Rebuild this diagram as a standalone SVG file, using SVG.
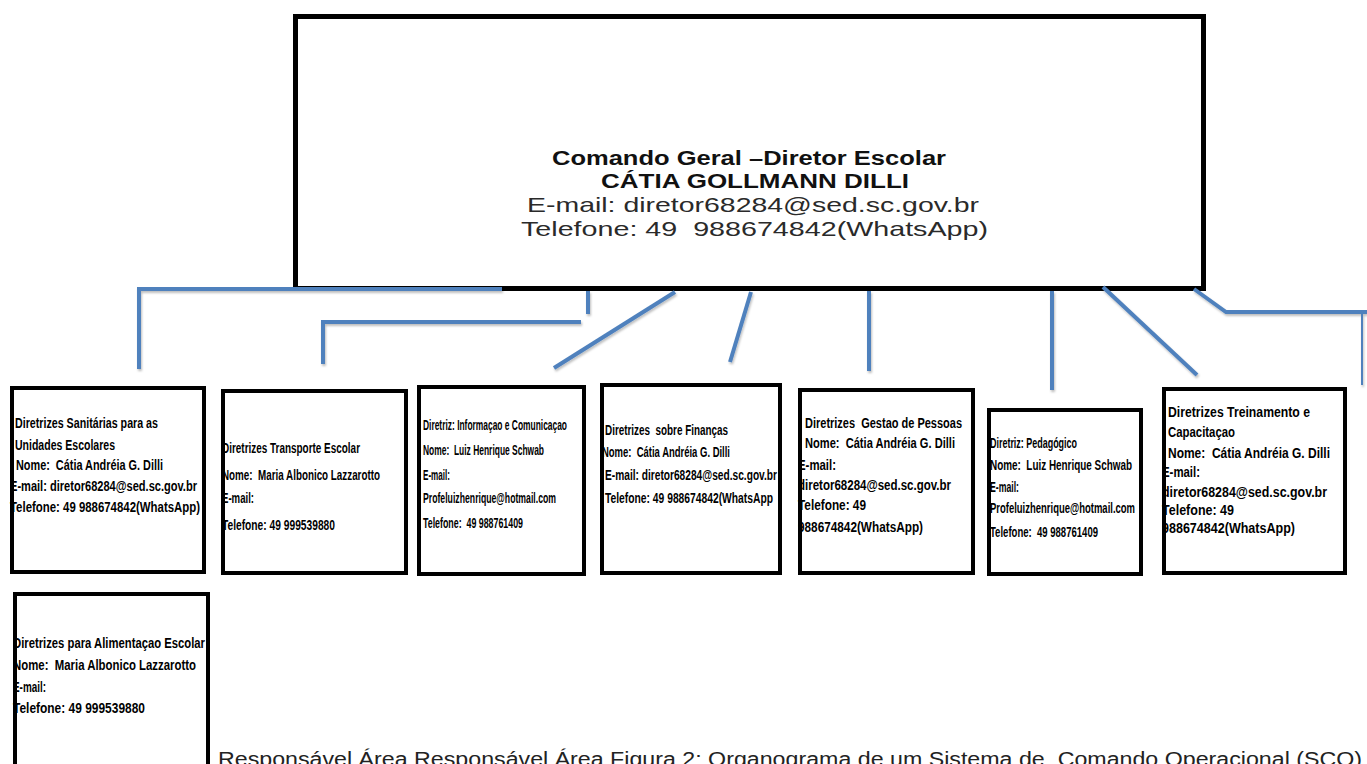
<svg xmlns="http://www.w3.org/2000/svg" width="1367" height="764" viewBox="0 0 1367 764">
<defs>
<style>
.box{fill:#fff;stroke:#000;stroke-width:4}
.main{fill:#fff;stroke:#000;stroke-width:5}
.t{font-family:"Liberation Sans",Arial,sans-serif;font-size:14.5px;font-weight:bold;fill:#000;white-space:pre}
.mb{font-family:"Liberation Sans",Arial,sans-serif;font-size:20px;font-weight:bold;fill:#111;text-anchor:middle;white-space:pre}
.mr{font-family:"Liberation Sans",Arial,sans-serif;font-size:21px;fill:#2a2a2a;text-anchor:middle;white-space:pre}
.cap{font-family:"Liberation Sans",Arial,sans-serif;font-size:20px;fill:#222;white-space:pre}
.c{fill:none;stroke:#4F81BD;stroke-width:4;stroke-linejoin:miter}
</style>
<filter id="sh" x="-10%" y="-10%" width="120%" height="130%">
<feDropShadow dx="1" dy="2" stdDeviation="1" flood-color="#000" flood-opacity="0.25"/>
</filter>
</defs>
<rect width="1367" height="764" fill="#fff"/>

<g id="main">
<rect class="main" x="295.5" y="16.5" width="908" height="272"/>
<text class="mb" x="749" y="165" textLength="394" lengthAdjust="spacingAndGlyphs">Comando Geral –Diretor Escolar</text>
<text class="mb" x="755" y="188" textLength="308" lengthAdjust="spacingAndGlyphs">CÁTIA GOLLMANN DILLI</text>
<text class="mr" x="753" y="212" textLength="452" lengthAdjust="spacingAndGlyphs">E-mail: diretor68284@sed.sc.gov.br</text>
<text class="mr" x="754.5" y="236" textLength="467" lengthAdjust="spacingAndGlyphs">Telefone: 49  988674842(WhatsApp)</text>
</g>

<g id="connectors" filter="url(#sh)">
<polyline class="c" points="502,289 139,289 139,369"/>
<line class="c" x1="588" y1="291" x2="588" y2="314"/>
<polyline class="c" points="581,322 323,322 323,364"/>
<line class="c" x1="675" y1="292" x2="554" y2="368"/>
<line class="c" x1="751" y1="292" x2="730" y2="362"/>
<line class="c" x1="869" y1="291" x2="869" y2="371"/>
<line class="c" x1="1052" y1="291" x2="1052" y2="390"/>
<line class="c" x1="1103" y1="287" x2="1197" y2="375"/>
<polyline class="c" points="1194,289 1226,312 1367,312"/>
<line x1="1362" y1="312" x2="1362" y2="385" stroke="#4F81BD" stroke-width="2"/>
</g>

<g id="n1">
<rect class="box" x="12" y="388" width="192" height="184"/>
<text class="t" x="15" y="428" textLength="143" lengthAdjust="spacingAndGlyphs">Diretrizes Sanitárias para as</text>
<text class="t" x="15" y="450" textLength="100" lengthAdjust="spacingAndGlyphs">Unidades Escolares</text>
<text class="t" x="16" y="470" textLength="147" lengthAdjust="spacingAndGlyphs">Nome:  Cátia Andréia G. Dilli</text>
<text class="t" x="10" y="491" textLength="187" lengthAdjust="spacingAndGlyphs">E-mail: diretor68284@sed.sc.gov.br</text>
<text class="t" x="10" y="512" textLength="190" lengthAdjust="spacingAndGlyphs">Telefone: 49 988674842(WhatsApp)</text>
</g>

<g id="n2">
<rect class="box" x="223" y="391" width="183" height="182"/>
<text class="t" x="222" y="453" textLength="138" lengthAdjust="spacingAndGlyphs">Diretrizes Transporte Escolar</text>
<text class="t" x="222" y="480" textLength="158" lengthAdjust="spacingAndGlyphs">Nome:  Maria Albonico Lazzarotto</text>
<text class="t" x="222" y="503" textLength="32" lengthAdjust="spacingAndGlyphs">E-mail:</text>
<text class="t" x="222" y="530" textLength="113" lengthAdjust="spacingAndGlyphs">Telefone: 49 999539880</text>
</g>

<g id="n3">
<rect class="box" x="419" y="387" width="165" height="187"/>
<text class="t" x="423" y="430" textLength="144" lengthAdjust="spacingAndGlyphs">Diretriz: Informaçao e Comunicaçao</text>
<text class="t" x="423" y="455" textLength="121" lengthAdjust="spacingAndGlyphs">Nome:  Luiz Henrique Schwab</text>
<text class="t" x="423" y="480" textLength="27" lengthAdjust="spacingAndGlyphs">E-mail:</text>
<text class="t" x="423" y="503" textLength="133" lengthAdjust="spacingAndGlyphs">Profeluizhenrique@hotmail.com</text>
<text class="t" x="423" y="528" textLength="100" lengthAdjust="spacingAndGlyphs">Telefone:  49 988761409</text>
</g>

<g id="n4">
<rect class="box" x="602" y="385" width="178" height="188"/>
<text class="t" x="605" y="435" textLength="123" lengthAdjust="spacingAndGlyphs">Diretrizes  sobre Finanças</text>
<text class="t" x="602" y="457" textLength="128" lengthAdjust="spacingAndGlyphs">Nome:  Cátia Andréia G. Dilli</text>
<text class="t" x="605" y="480" textLength="172" lengthAdjust="spacingAndGlyphs">E-mail: diretor68284@sed.sc.gov.br</text>
<text class="t" x="605" y="503" textLength="168" lengthAdjust="spacingAndGlyphs">Telefone: 49 988674842(WhatsApp</text>
</g>

<g id="n5">
<rect class="box" x="800" y="390" width="173" height="183"/>
<text class="t" x="805" y="428" textLength="157" lengthAdjust="spacingAndGlyphs">Diretrizes  Gestao de Pessoas</text>
<text class="t" x="805" y="448" textLength="150" lengthAdjust="spacingAndGlyphs">Nome:  Cátia Andréia G. Dilli</text>
<text class="t" x="798" y="470" textLength="38" lengthAdjust="spacingAndGlyphs">E-mail:</text>
<text class="t" x="798" y="490" textLength="153" lengthAdjust="spacingAndGlyphs">diretor68284@sed.sc.gov.br</text>
<text class="t" x="798" y="510" textLength="68" lengthAdjust="spacingAndGlyphs">Telefone: 49</text>
<text class="t" x="798" y="532" textLength="125" lengthAdjust="spacingAndGlyphs">988674842(WhatsApp)</text>
</g>

<g id="n6">
<rect class="box" x="989" y="410" width="152" height="164"/>
<text class="t" x="990" y="448" textLength="87" lengthAdjust="spacingAndGlyphs">Diretriz: Pedagógico</text>
<text class="t" x="990" y="470" textLength="142" lengthAdjust="spacingAndGlyphs">Nome:  Luiz Henrique Schwab</text>
<text class="t" x="990" y="492" textLength="29" lengthAdjust="spacingAndGlyphs">E-mail:</text>
<text class="t" x="990" y="513" textLength="145" lengthAdjust="spacingAndGlyphs">Profeluizhenrique@hotmail.com</text>
<text class="t" x="990" y="537" textLength="108" lengthAdjust="spacingAndGlyphs">Telefone:  49 988761409</text>
</g>

<g id="n7">
<rect class="box" x="1164" y="389" width="181" height="184"/>
<text class="t" x="1168" y="417" textLength="142" lengthAdjust="spacingAndGlyphs">Diretrizes Treinamento e</text>
<text class="t" x="1168" y="437" textLength="67" lengthAdjust="spacingAndGlyphs">Capacitaçao</text>
<text class="t" x="1168" y="458" textLength="162" lengthAdjust="spacingAndGlyphs">Nome:  Cátia Andréia G. Dilli</text>
<text class="t" x="1162" y="477" textLength="38" lengthAdjust="spacingAndGlyphs">E-mail:</text>
<text class="t" x="1162" y="497" textLength="165" lengthAdjust="spacingAndGlyphs">diretor68284@sed.sc.gov.br</text>
<text class="t" x="1162" y="515" textLength="72" lengthAdjust="spacingAndGlyphs">Telefone: 49</text>
<text class="t" x="1162" y="533" textLength="133" lengthAdjust="spacingAndGlyphs">988674842(WhatsApp)</text>
</g>

<g id="n8">
<rect class="box" x="15" y="594" width="193" height="180"/>
<text class="t" x="13" y="648" textLength="192" lengthAdjust="spacingAndGlyphs">Diretrizes para Alimentaçao Escolar</text>
<text class="t" x="13" y="670" textLength="183" lengthAdjust="spacingAndGlyphs">Nome:  Maria Albonico Lazzarotto</text>
<text class="t" x="13" y="692" textLength="33" lengthAdjust="spacingAndGlyphs">E-mail:</text>
<text class="t" x="13" y="713" textLength="132" lengthAdjust="spacingAndGlyphs">Telefone: 49 999539880</text>
</g>

<text id="caption" class="cap" x="218" y="766" textLength="1144" lengthAdjust="spacingAndGlyphs">Responsável Área Responsável Área Figura 2: Organograma de um Sistema de  Comando Operacional (SCO)</text>
</svg>
